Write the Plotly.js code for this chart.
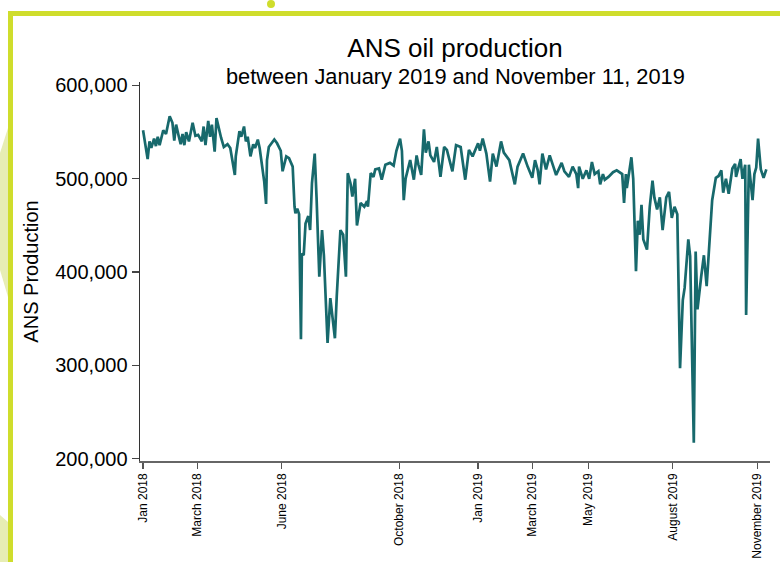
<!DOCTYPE html>
<html>
<head>
<meta charset="utf-8">
<script src="https://cdn.plot.ly/plotly-3.0.1.min.js"></script>
<style>html,body{margin:0;padding:0;background:#fff;}#chart{width:780px;height:562px;}</style>
</head>
<body>
<div id="chart"></div>
<script>
// ---- data ----
const dates = [
"2018-01-01","2018-01-03","2018-01-06","2018-01-08","2018-01-10","2018-01-13","2018-01-15","2018-01-17","2018-01-19","2018-01-23",
"2018-01-26","2018-01-30","2018-02-02","2018-02-04","2018-02-06","2018-02-09","2018-02-11","2018-02-13","2018-02-15","2018-02-17",
"2018-02-20","2018-02-24","2018-02-27","2018-03-02","2018-03-06","2018-03-08","2018-03-10","2018-03-13","2018-03-15","2018-03-17",
"2018-03-20","2018-03-22","2018-03-25","2018-03-27","2018-03-30","2018-04-03","2018-04-06","2018-04-09","2018-04-11","2018-04-12",
"2018-04-16","2018-04-18","2018-04-21","2018-04-23","2018-04-25","2018-04-28","2018-05-01","2018-05-03","2018-05-06","2018-05-08",
"2018-05-11","2018-05-13","2018-05-15","2018-05-16","2018-05-18","2018-05-21","2018-05-24","2018-05-27","2018-05-31","2018-06-02",
"2018-06-04","2018-06-06","2018-06-09","2018-06-13","2018-06-15","2018-06-16","2018-06-18","2018-06-20","2018-06-22","2018-06-23",
"2018-06-25","2018-06-27","2018-06-30","2018-07-02","2018-07-04","2018-07-07","2018-07-09","2018-07-12","2018-07-15","2018-07-17",
"2018-07-21","2018-07-24","2018-07-29","2018-07-31","2018-08-04","2018-08-07","2018-08-10","2018-08-12","2018-08-15","2018-08-17",
"2018-08-20","2018-08-22","2018-08-26","2018-08-30","2018-09-02","2018-09-03","2018-09-06","2018-09-09","2018-09-11","2018-09-15",
"2018-09-18","2018-09-22","2018-09-27","2018-10-01","2018-10-04","2018-10-08","2018-10-10","2018-10-12","2018-10-14","2018-10-19",
"2018-10-23","2018-10-26","2018-10-28","2018-10-31","2018-11-03","2018-11-05","2018-11-08","2018-11-10","2018-11-14","2018-11-17",
"2018-11-21","2018-11-25","2018-11-28","2018-12-04","2018-12-08","2018-12-13","2018-12-18","2018-12-22","2018-12-26","2019-01-01",
"2019-01-03","2019-01-06","2019-01-10","2019-01-14","2019-01-17","2019-01-21","2019-01-26","2019-01-29","2019-02-04","2019-02-10",
"2019-02-13","2019-02-19","2019-02-24","2019-03-01","2019-03-04","2019-03-07","2019-03-09","2019-03-12","2019-03-16","2019-03-20",
"2019-03-24","2019-03-27","2019-04-02","2019-04-05","2019-04-10","2019-04-14","2019-04-18","2019-04-20","2019-04-21","2019-04-25",
"2019-04-29","2019-05-02","2019-05-05","2019-05-08","2019-05-12","2019-05-14","2019-05-17","2019-05-19","2019-05-23","2019-05-28",
"2019-06-01","2019-06-07","2019-06-09","2019-06-11","2019-06-12","2019-06-14","2019-06-17","2019-06-19","2019-06-22","2019-06-24",
"2019-06-26","2019-06-28","2019-06-30","2019-07-04","2019-07-07","2019-07-10","2019-07-12","2019-07-15","2019-07-18","2019-07-21",
"2019-07-25","2019-07-28","2019-07-31","2019-08-03","2019-08-06","2019-08-09","2019-08-12","2019-08-14","2019-08-18","2019-08-20",
"2019-08-24","2019-08-26","2019-08-28","2019-09-01","2019-09-04","2019-09-07","2019-09-09","2019-09-13","2019-09-17","2019-09-20",
"2019-09-23","2019-09-25","2019-09-28","2019-10-01","2019-10-05","2019-10-08","2019-10-09","2019-10-14","2019-10-16","2019-10-19",
"2019-10-20","2019-10-23","2019-10-27","2019-10-29","2019-10-31","2019-11-02","2019-11-05","2019-11-08","2019-11-11"
];
const production = [
552000,540000,521000,540000,533000,543000,535000,545000,536000,552000,
548000,567000,560000,541000,558000,545000,537000,548000,536000,550000,
540000,560000,546000,547000,540000,556000,536000,562000,545000,558000,
529000,565000,551000,544000,534000,537000,533000,515000,504000,524000,
551000,545000,556000,540000,545000,524000,537000,533000,542000,533000,
513000,497000,473000,520000,534000,538000,542000,538000,530000,508000,
515000,524000,522000,513000,470000,463000,468000,462000,328000,420000,
418000,452000,460000,445000,495000,527000,480000,395000,445000,418000,
324000,372000,329000,374000,445000,440000,395000,506000,495000,481000,
500000,450000,474000,470000,476000,470000,506000,502000,510000,511000,
499000,515000,517000,514000,530000,543000,530000,477000,500000,520000,
499000,525000,515000,504000,553000,528000,540000,525000,518000,534000,
502000,534000,531000,508000,536000,534000,499000,531000,524000,538000,
530000,543000,527000,497000,527000,513000,540000,528000,520000,494000,
513000,527000,513000,501000,520000,509000,494000,527000,510000,525000,
513000,504000,517000,508000,502000,513000,505000,490000,513000,500000,
509000,500000,518000,505000,508000,494000,505000,499000,502000,507000,
509000,505000,474000,505000,490000,502000,523000,500000,401000,455000,
440000,472000,435000,424000,470000,498000,480000,467000,480000,445000,
480000,486000,458000,470000,462000,297000,370000,383000,435000,417000,
217000,422000,360000,395000,418000,385000,420000,477000,501000,503000,
509000,485000,500000,484000,511000,516000,502000,521000,500000,515000,
354000,515000,477000,505000,512000,543000,510000,501000,510000
];
const tickDates = ["2018-01-01","2018-03-01","2018-06-01","2018-10-07","2019-01-01","2019-03-01","2019-05-01","2019-08-01","2019-11-01"];
const tickLabels = ["Jan 2018","March 2018","June 2018","October 2018","Jan 2019","March 2019","May 2019","August 2019","November 2019"];
const yTicks = [200000,300000,400000,500000,600000];

// ---- layout helpers (pixel -> paper) ----
const W = 780, H = 562, L = 140, R = 10, T = 82, B = 101;
const pw = W - L - R, ph = H - T - B;
const px = x => (x - L) / pw;
const py = y => (H - B - y) / ph;
const lime = "#cfdd2c", pale = "#e7edb4";
function poly(pts){ return "M" + pts.map(p => px(p[0]).toFixed(5) + "," + py(p[1]).toFixed(5)).join(" L") + " Z"; }

const shapes = [
  {type:"path", xref:"paper", yref:"paper", path: poly([[8,128],[0,153],[0,270],[8,297]]), fillcolor: pale, line:{width:0}, layer:"below"},
  {type:"path", xref:"paper", yref:"paper", path: poly([[0,515],[8,522],[8,562],[0,562]]), fillcolor: pale, line:{width:0}, layer:"below"},
  {type:"rect", xref:"paper", yref:"paper", x0:px(8), x1:px(780), y0:py(11), y1:py(16), fillcolor: lime, line:{width:0}, layer:"below"},
  {type:"rect", xref:"paper", yref:"paper", x0:px(8), x1:px(13), y0:py(11), y1:py(562), fillcolor: lime, line:{width:0}, layer:"below"},
  {type:"circle", xref:"paper", yref:"paper", x0:px(267), x1:px(275), y0:py(0), y1:py(8), fillcolor: lime, line:{width:0}, layer:"below"}
];

const trace = {
  type: "scatter", mode: "lines",
  x: dates, y: production,
  line: {color: "#17696c", width: 2.7},
  hoverinfo: "skip"
};

const layout = {
  width: W, height: H,
  margin: {l: L, r: R, t: T, b: B, pad: 0},
  paper_bgcolor: "#ffffff", plot_bgcolor: "#ffffff",
  font: {family: "'Liberation Sans', Arial, sans-serif", color: "#000"},
  showlegend: false,
  title: {text: "ANS oil production", font: {size: 26, color: "#000"}, xref: "paper", x: 0.5, xanchor: "center", yref: "container", y: 1 - 48/H, yanchor: "middle"},
  annotations: [
    {text: "between January 2019 and November 11, 2019", xref: "paper", yref: "paper", x: 0.5, y: py(77), xanchor: "center", yanchor: "middle", showarrow: false, font: {size: 21.8, color: "#000"}}
  ],
  xaxis: {
    type: "date", range: ["2017-12-28 16:00", "2019-11-15"],
    tickmode: "array", tickvals: tickDates, ticktext: tickLabels,
    tickangle: -90, tickfont: {size: 12, color: "#000"},
    ticks: "outside", ticklen: 6, tickwidth: 1.3, tickcolor: "#555",
    showline: true, linecolor: "#666", linewidth: 1.5,
    showgrid: false, zeroline: false, automargin: false
  },
  yaxis: {
    range: [197500, 603700],
    tickmode: "array", tickvals: yTicks, tickformat: ",d",
    tickfont: {size: 20, color: "#000"},
    ticks: "outside", ticklen: 7, tickwidth: 1.3, tickcolor: "#444",
    showline: true, linecolor: "#333", linewidth: 1.5,
    showgrid: false, zeroline: false, automargin: false,
    title: {text: "ANS Production", font: {size: 20, color: "#000"}, standoff: 11}
  },
  shapes: shapes
};

Plotly.newPlot("chart", [trace], layout, {staticPlot: true, displayModeBar: false});
</script>
</body>
</html>
